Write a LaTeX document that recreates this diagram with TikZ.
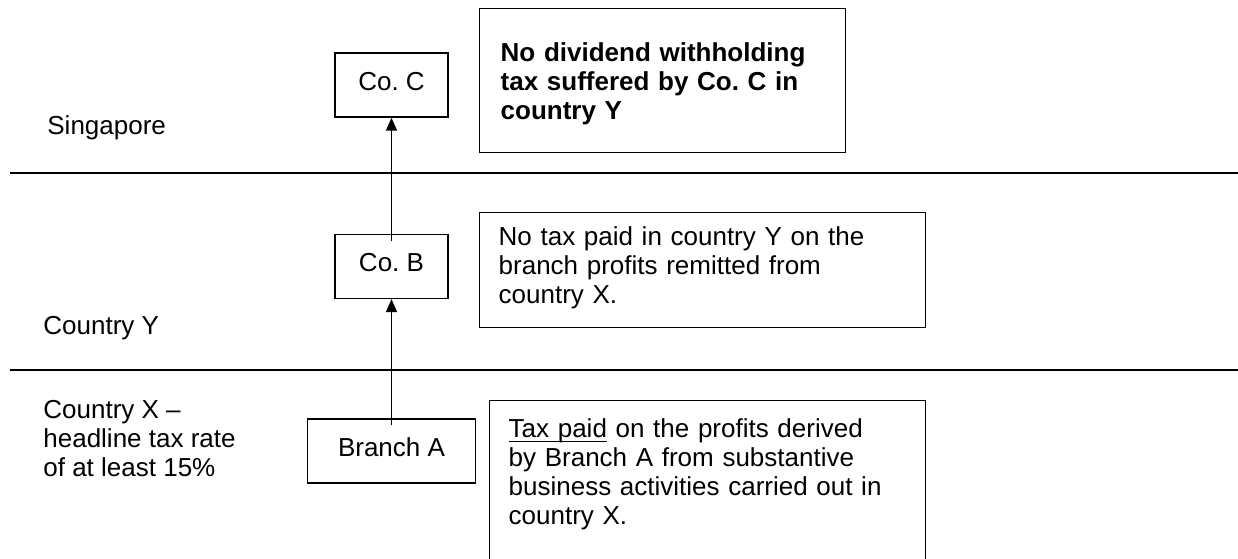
\documentclass[tikz,border=0pt]{standalone}
\usepackage{fontspec}
\setmainfont{Liberation Sans}
\usepackage{tikz}
\usetikzlibrary{positioning,arrows.meta}
\newcommand\undl[1]{\setbox0\hbox{#1}\rlap{\rule[-2.2pt]{\wd0}{0.6pt}}\box0\relax}
\tikzset{
  region/.style={inner sep=0pt, align=left},
  entity/.style={draw, rectangle, line width=0.7pt, minimum width=56.5pt, minimum height=32pt,
                 inner sep=0pt, text depth=4pt},
  note/.style={draw, line width=0.7pt, anchor=north west, inner ysep=0pt, align=left},
  flow/.style={line width=0.75pt, shorten <=-3.5pt, -{Triangle[length=6.5pt,width=5.5pt]}},
  border/.style={line width=1pt}
}

\begin{document}
\begin{tikzpicture}[font=\fontsize{13}{14.5}\selectfont]
  \path[use as bounding box, fill=white] (0pt,0pt) rectangle (619pt,-279pt);
  \draw[border] (5pt,-86.5pt) -- (619pt,-86.5pt);
  \draw[border] (5pt,-185pt) -- (619pt,-185pt);
  \node[region, anchor=base west] (sg) at (23.5pt,-67pt) {Singapore};
  \node[region, anchor=base west] (cy) at (21.5pt,-167pt) {Country Y};
  \node[region, anchor=north west] (cx) at (21.5pt,-200pt) {Country X --\\headline tax rate\\of at least 15\%};
  \node[entity] (coc) at (195.75pt,-42.5pt) {Co.\ C};
  \node[entity, below=58pt of coc] (cob) {Co.\ B};
  \node[entity, below=59.5pt of cob, minimum width=84pt] (bra) {Branch A};
  \draw[flow] (bra) -- (cob);
  \draw[flow] (cob) -- (coc);
  \node[note, text width=162pt, inner xsep=10.5pt, text height=26.5pt, text depth=45.5pt] (nowht)
    at (239.5pt,-4pt) {\bfseries No dividend withholding\\tax suffered by Co.\ C in\\country Y};
  \node[note, text width=204pt, inner xsep=9.5pt, text height=16.5pt, text depth=41pt] (notaxy)
    at (239.5pt,-106pt) {No tax paid in country Y on the\\branch profits remitted from\\country X.};
  \node[note, text width=199pt, inner xsep=9.5pt, text height=18.5pt, text depth=81.5pt] (taxx)
    at (244.5pt,-200pt) {\undl{Tax paid} on the profits derived\\by Branch A from substantive\\business activities carried out in\\country X.};
\end{tikzpicture}
\end{document}
